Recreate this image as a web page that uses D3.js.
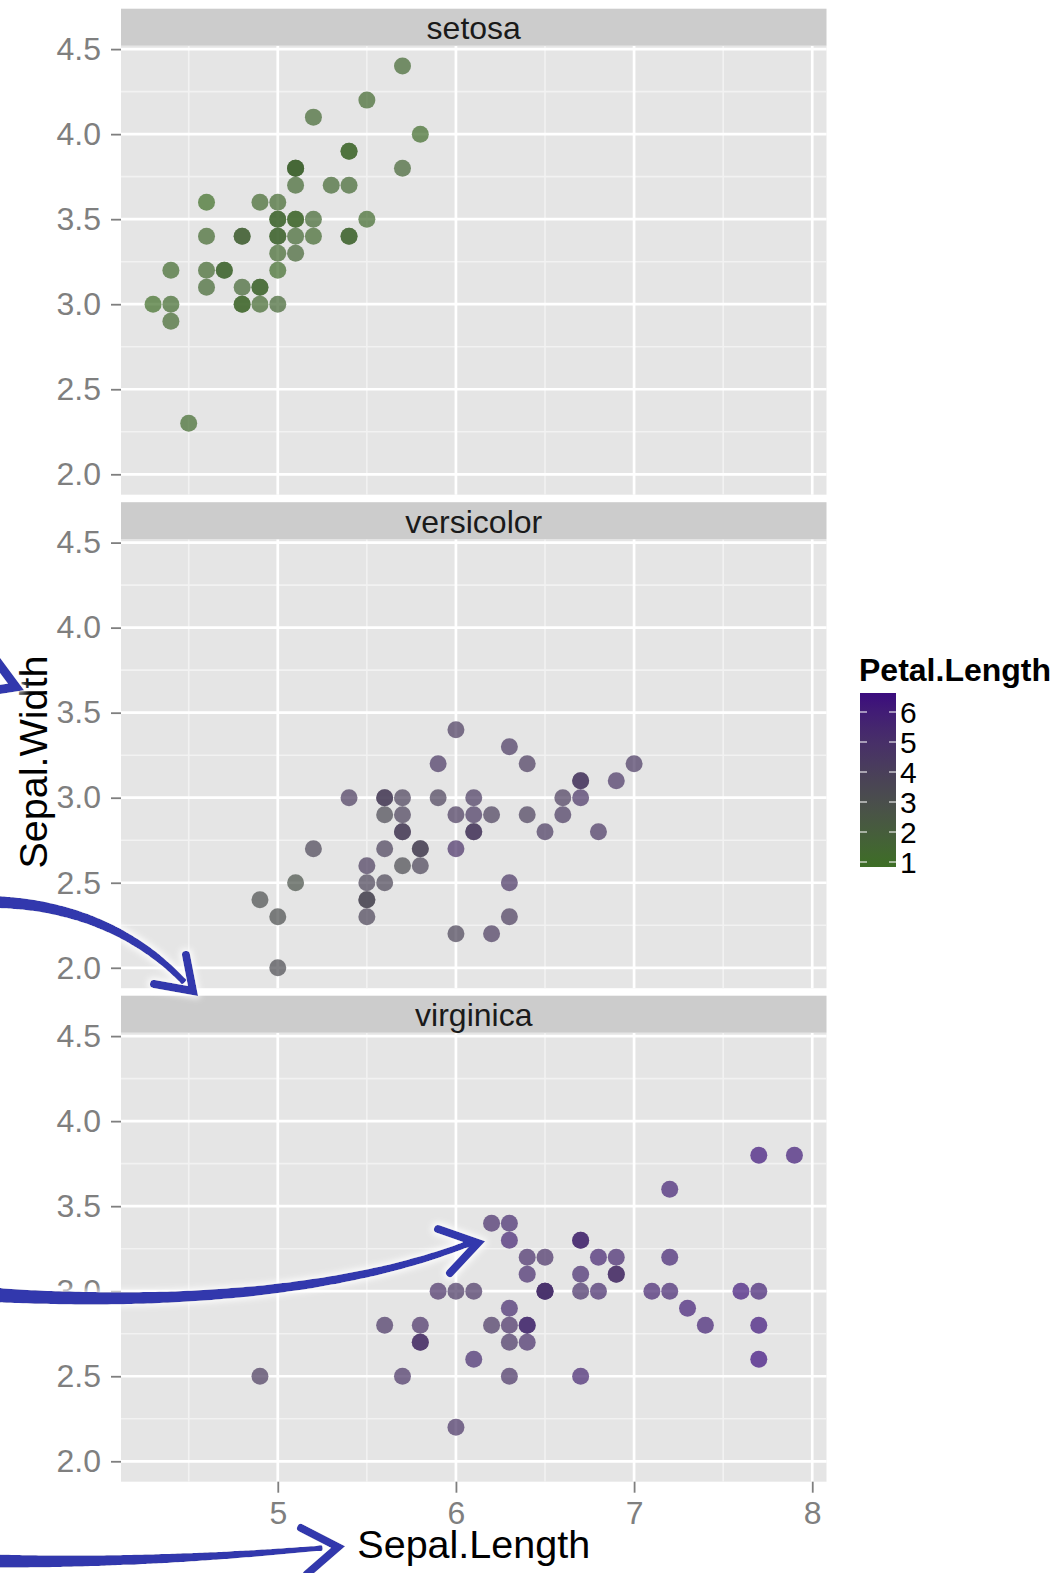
<!DOCTYPE html>
<html>
<head>
<meta charset="utf-8">
<script src="https://cdnjs.cloudflare.com/ajax/libs/d3/7.8.5/d3.min.js"></script>
<style>
  body { margin: 0; background: #fff; }
  svg { display: block; font-family: "Liberation Sans", Arial, sans-serif; }
</style>
</head>
<body>
<div id="chart"></div>
<script>
const species = ['setosa', 'versicolor', 'virginica'];

const setosaSepalLength = [5.1, 4.9, 4.7, 4.6, 5.0, 5.4, 4.6, 5.0, 4.4, 4.9, 5.4, 4.8, 4.8, 4.3, 5.8, 5.7, 5.4, 5.1, 5.7, 5.1, 5.4, 5.1, 4.6, 5.1, 4.8, 5.0, 5.0, 5.2, 5.2, 4.7, 4.8, 5.4, 5.2, 5.5, 4.9, 5.0, 5.5, 4.9, 4.4, 5.1, 5.0, 4.5, 4.4, 5.0, 5.1, 4.8, 5.1, 4.6, 5.3, 5.0];
const setosaSepalWidth = [3.5, 3.0, 3.2, 3.1, 3.6, 3.9, 3.4, 3.4, 2.9, 3.1, 3.7, 3.4, 3.0, 3.0, 4.0, 4.4, 3.9, 3.5, 3.8, 3.8, 3.4, 3.7, 3.6, 3.3, 3.4, 3.0, 3.4, 3.5, 3.4, 3.2, 3.1, 3.4, 4.1, 4.2, 3.1, 3.2, 3.5, 3.6, 3.0, 3.4, 3.5, 2.3, 3.2, 3.5, 3.8, 3.0, 3.8, 3.2, 3.7, 3.3];
const setosaPetalLength = [1.4, 1.4, 1.3, 1.5, 1.4, 1.7, 1.4, 1.5, 1.4, 1.5, 1.5, 1.6, 1.4, 1.1, 1.2, 1.5, 1.3, 1.4, 1.7, 1.5, 1.7, 1.5, 1.0, 1.7, 1.9, 1.6, 1.6, 1.5, 1.4, 1.6, 1.6, 1.5, 1.5, 1.4, 1.5, 1.2, 1.3, 1.4, 1.3, 1.5, 1.3, 1.3, 1.3, 1.6, 1.9, 1.4, 1.6, 1.4, 1.5, 1.4];

const versicolorSepalLength = [7.0, 6.4, 6.9, 5.5, 6.5, 5.7, 6.3, 4.9, 6.6, 5.2, 5.0, 5.9, 6.0, 6.1, 5.6, 6.7, 5.6, 5.8, 6.2, 5.6, 5.9, 6.1, 6.3, 6.1, 6.4, 6.6, 6.8, 6.7, 6.0, 5.7, 5.5, 5.5, 5.8, 6.0, 5.4, 6.0, 6.7, 6.3, 5.6, 5.5, 5.5, 6.1, 5.8, 5.0, 5.6, 5.7, 5.7, 6.2, 5.1, 5.7];
const versicolorSepalWidth = [3.2, 3.2, 3.1, 2.3, 2.8, 2.8, 3.3, 2.4, 2.9, 2.7, 2.0, 3.0, 2.2, 2.9, 2.9, 3.1, 3.0, 2.7, 2.2, 2.5, 3.2, 2.8, 2.5, 2.8, 2.9, 3.0, 2.8, 3.0, 2.9, 2.6, 2.4, 2.4, 2.7, 2.7, 3.0, 3.4, 3.1, 2.3, 3.0, 2.5, 2.6, 3.0, 2.6, 2.3, 2.7, 3.0, 2.9, 2.9, 2.5, 2.8];
const versicolorPetalLength = [4.7, 4.5, 4.9, 4.0, 4.6, 4.5, 4.7, 3.3, 4.6, 3.9, 3.5, 4.2, 4.0, 4.7, 3.6, 4.4, 4.5, 4.1, 4.5, 3.9, 4.8, 4.0, 4.9, 4.7, 4.3, 4.4, 4.8, 5.0, 4.5, 3.5, 3.8, 3.7, 3.9, 5.1, 4.5, 4.5, 4.7, 4.4, 4.1, 4.0, 4.4, 4.6, 4.0, 3.3, 4.2, 4.2, 4.2, 4.3, 3.0, 4.1];

const virginicaSepalLength = [6.3, 5.8, 7.1, 6.3, 6.5, 7.6, 4.9, 7.3, 6.7, 7.2, 6.5, 6.4, 6.8, 5.7, 5.8, 6.4, 6.5, 7.7, 7.7, 6.0, 6.9, 5.6, 7.7, 6.3, 6.7, 7.2, 6.2, 6.1, 6.4, 7.2, 7.4, 7.9, 6.4, 6.3, 6.1, 7.7, 6.3, 6.4, 6.0, 6.9, 6.7, 6.9, 5.8, 6.8, 6.7, 6.7, 6.3, 6.5, 6.2, 5.9];
const virginicaSepalWidth = [3.3, 2.7, 3.0, 2.9, 3.0, 3.0, 2.5, 2.9, 2.5, 3.6, 3.2, 2.7, 3.0, 2.5, 2.8, 3.2, 3.0, 3.8, 2.6, 2.2, 3.2, 2.8, 2.8, 2.7, 3.3, 3.2, 2.8, 3.0, 2.8, 3.0, 2.8, 3.8, 2.8, 2.8, 2.6, 3.0, 3.4, 3.1, 3.0, 3.1, 3.1, 3.1, 2.7, 3.2, 3.3, 3.0, 2.5, 3.0, 3.4, 3.0];
const virginicaPetalLength = [6.0, 5.1, 5.9, 5.6, 5.8, 6.6, 4.5, 6.3, 5.8, 6.1, 5.1, 5.3, 5.5, 5.0, 5.1, 5.3, 5.5, 6.7, 6.9, 5.0, 5.7, 4.9, 6.7, 4.9, 5.7, 6.0, 4.8, 4.9, 5.6, 5.8, 6.1, 6.4, 5.6, 5.1, 5.6, 6.1, 5.6, 5.5, 4.8, 5.4, 5.6, 5.1, 5.1, 5.9, 5.7, 5.2, 5.0, 5.2, 5.4, 5.1];

const xTicks = [5, 6, 7, 8];
const xMinor = [4.5, 5.5, 6.5, 7.5];
const yTicks = [2.0, 2.5, 3.0, 3.5, 4.0, 4.5];
const yMinor = [2.25, 2.75, 3.25, 3.75, 4.25];
const legendTicks = [1, 2, 3, 4, 5, 6];

const sepalLength = [setosaSepalLength, versicolorSepalLength, virginicaSepalLength];
const sepalWidth = [setosaSepalWidth, versicolorSepalWidth, virginicaSepalWidth];
const petalLength = [setosaPetalLength, versicolorPetalLength, virginicaPetalLength];

const width = 1056, height = 1573;
const panelTop = 45.7, panelH = 449, panelStep = 493.5, stripH = 37;

const svg = d3.select('#chart').append('svg')
  .attr('width', width)
  .attr('height', height);

const xScale = d3.scaleLinear().domain([4.12, 8.08]).range([121, 826.5]);
const yScale = d3.scaleLinear().domain([1.88, 4.52]).range([panelH, 0]);
const colour = d3.scaleLinear()
  .domain([1, 6.9])
  .range(['#3d6e25', '#3b0c7e'])
  .interpolate(d3.interpolateLab);

species.forEach((name, i) => {
  const g = svg.append('g').attr('transform', `translate(0,${panelTop + i * panelStep})`);

  g.append('rect')
    .attr('x', xScale.range()[0]).attr('y', 0)
    .attr('width', xScale.range()[1] - xScale.range()[0])
    .attr('height', panelH)
    .attr('fill', '#e5e5e5');

  // minor grid
  g.selectAll('.xminor').data(xMinor).enter().append('line')
    .attr('x1', d => xScale(d)).attr('x2', d => xScale(d))
    .attr('y1', 0).attr('y2', panelH)
    .attr('stroke', '#f2f2f2').attr('stroke-width', 1.6);
  g.selectAll('.yminor').data(yMinor).enter().append('line')
    .attr('x1', xScale.range()[0]).attr('x2', xScale.range()[1])
    .attr('y1', d => yScale(d)).attr('y2', d => yScale(d))
    .attr('stroke', '#f2f2f2').attr('stroke-width', 1.6);

  // major grid
  g.selectAll('.xmajor').data(xTicks).enter().append('line')
    .attr('x1', d => xScale(d)).attr('x2', d => xScale(d))
    .attr('y1', 0).attr('y2', panelH)
    .attr('stroke', '#fff').attr('stroke-width', 2.7);
  g.selectAll('.ymajor').data(yTicks).enter().append('line')
    .attr('x1', xScale.range()[0]).attr('x2', xScale.range()[1])
    .attr('y1', d => yScale(d)).attr('y2', d => yScale(d))
    .attr('stroke', '#fff').attr('stroke-width', 2.7);

  // strip
  g.append('rect')
    .attr('x', xScale.range()[0]).attr('y', -stripH)
    .attr('width', xScale.range()[1] - xScale.range()[0])
    .attr('height', stripH)
    .attr('fill', '#cccccc');
  g.append('text')
    .attr('x', (xScale.range()[0] + xScale.range()[1]) / 2)
    .attr('y', -6.7)
    .attr('text-anchor', 'middle')
    .attr('font-size', 32)
    .attr('fill', '#1a1a1a')
    .text(name);

  // y axis
  const yAxis = g.append('g')
    .attr('transform', `translate(${xScale.range()[0]},0)`)
    .call(d3.axisLeft(yScale).tickValues(yTicks).tickFormat(d3.format('.1f')).tickSize(10).tickPadding(10));
  yAxis.select('.domain').remove();
  yAxis.selectAll('line').attr('stroke', '#7f7f7f').attr('stroke-width', 1.8);
  yAxis.selectAll('text').attr('fill', '#7f7f7f').attr('font-size', 32)
    .attr('font-family', '"Liberation Sans", Arial, sans-serif');

  // points
  const pts = sepalLength[i].map((sl, k) => ({ sl, sw: sepalWidth[i][k], pl: petalLength[i][k] }));
  g.selectAll('.dot').data(pts).enter().append('circle')
    .attr('cx', d => xScale(d.sl))
    .attr('cy', d => yScale(d.sw))
    .attr('r', 8.5)
    .attr('fill', d => colour(d.pl))
    .attr('fill-opacity', 0.7);

  if (i === species.length - 1) {
    const xAxis = g.append('g')
      .attr('transform', `translate(0,${panelH})`)
      .call(d3.axisBottom(xScale).tickValues(xTicks).tickFormat(d => d).tickSize(11).tickPadding(9));
    xAxis.select('.domain').remove();
    xAxis.selectAll('line').attr('stroke', '#7f7f7f').attr('stroke-width', 1.8);
    xAxis.selectAll('text').attr('fill', '#7f7f7f').attr('font-size', 32)
      .attr('font-family', '"Liberation Sans", Arial, sans-serif');
  }
});

// axis titles
svg.append('text')
  .attr('x', (xScale.range()[0] + xScale.range()[1]) / 2)
  .attr('y', 1558)
  .attr('text-anchor', 'middle')
  .attr('font-size', 39.5)
  .text('Sepal.Length');

svg.append('text')
  .attr('transform', 'translate(47,762) rotate(-90)')
  .attr('text-anchor', 'middle')
  .attr('font-size', 39.5)
  .text('Sepal.Width');

// legend
const legendScale = d3.scaleLinear().domain([1, 6]).range([862, 712]);
const barTop = 693, barBottom = 867, barX = 860, barW = 36;

const defs = svg.append('defs');
const grad = defs.append('linearGradient')
  .attr('id', 'petal-grad')
  .attr('x1', 0).attr('y1', 1).attr('x2', 0).attr('y2', 0);
d3.range(0, 1.0001, 0.1).forEach(t => {
  grad.append('stop')
    .attr('offset', t)
    .attr('stop-color', colour(1 + t * 5.9));
});

svg.append('text')
  .attr('x', 859).attr('y', 681)
  .attr('font-size', 32)
  .attr('font-weight', 'bold')
  .text('Petal.Length');

svg.append('rect')
  .attr('x', barX).attr('y', barTop)
  .attr('width', barW).attr('height', barBottom - barTop)
  .attr('fill', 'url(#petal-grad)');

const lt = svg.append('g');
lt.selectAll('.lt1').data(legendTicks).enter().append('line')
  .attr('x1', barX).attr('x2', barX + 7)
  .attr('y1', d => legendScale(d)).attr('y2', d => legendScale(d))
  .attr('stroke', '#fff').attr('stroke-opacity', 0.7).attr('stroke-width', 1.5);
lt.selectAll('.lt2').data(legendTicks).enter().append('line')
  .attr('x1', barX + barW - 7).attr('x2', barX + barW)
  .attr('y1', d => legendScale(d)).attr('y2', d => legendScale(d))
  .attr('stroke', '#fff').attr('stroke-opacity', 0.7).attr('stroke-width', 1.5);
lt.selectAll('text').data(legendTicks).enter().append('text')
  .attr('x', 900)
  .attr('y', d => legendScale(d))
  .attr('dy', '0.36em')
  .attr('font-size', 30)
  .text(d => d);

// hand drawn arrows
const halo = defs.append('filter')
  .attr('id', 'halo')
  .attr('x', '-20%').attr('y', '-20%').attr('width', '140%').attr('height', '140%');
halo.append('feMorphology').attr('in', 'SourceAlpha').attr('operator', 'dilate').attr('radius', 2).attr('result', 'd');
halo.append('feGaussianBlur').attr('in', 'd').attr('stdDeviation', 3).attr('result', 'b');
halo.append('feFlood').attr('flood-color', '#fff').attr('flood-opacity', 0.9).attr('result', 'f');
halo.append('feComposite').attr('in', 'f').attr('in2', 'b').attr('operator', 'in').attr('result', 'w');
const merge = halo.append('feMerge');
merge.append('feMergeNode').attr('in', 'w');
merge.append('feMergeNode').attr('in', 'SourceGraphic');

const arrowColour = '#3039ad';
const arrows = svg.append('g').attr('filter', 'url(#halo)');

const taper = (d, w0, w1) => {
  const tmp = arrows.append('path').attr('d', d).node();
  const len = tmp.getTotalLength();
  const n = 60, left = [], right = [];
  for (let k = 0; k <= n; k++) {
    const s = k / n * len;
    const a = tmp.getPointAtLength(Math.max(0, s - 0.5));
    const b = tmp.getPointAtLength(Math.min(len, s + 0.5));
    const p = tmp.getPointAtLength(s);
    const dx = b.x - a.x, dy = b.y - a.y, m = Math.hypot(dx, dy) || 1;
    const w = (w0 + (w1 - w0) * k / n) / 2;
    left.push([p.x - dy / m * w, p.y + dx / m * w]);
    right.push([p.x + dy / m * w, p.y - dx / m * w]);
  }
  tmp.remove();
  arrows.append('path')
    .attr('d', d3.line().curve(d3.curveCatmullRomClosed)(left.concat(right.reverse())))
    .attr('fill', arrowColour);
};

const head = (d, w) => {
  arrows.append('path')
    .attr('d', d)
    .attr('fill', 'none')
    .attr('stroke', arrowColour)
    .attr('stroke-width', w)
    .attr('stroke-linecap', 'round')
    .attr('stroke-linejoin', 'miter');
};

// top left, only the head shows
head('M-4,660 L16,687 L-4,690', 9);

// versicolor arrow
taper('M-5,902 C60,904 130,925 184,982', 12, 6);
head('M186,955 L193,991 L154,984', 8);

// virginica arrow
taper('M-5,1295 C180,1306 350,1290 470,1243', 14, 6);
head('M438,1229 L478,1243 L450,1273', 8);

// x axis arrow
taper('M-5,1561 C120,1563 230,1556 322,1548', 13, 5);
head('M301,1528 L338,1547 L307,1574', 8);
</script>
</body>
</html>
